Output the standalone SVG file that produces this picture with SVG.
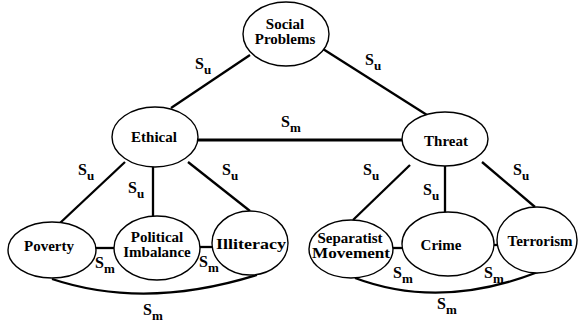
<svg xmlns="http://www.w3.org/2000/svg" width="581" height="323" viewBox="0 0 581 323">
<style>
.n ellipse{fill:#fff;stroke:#000;stroke-width:1.4}
.n text{font-family:"Liberation Serif",serif;font-weight:bold;font-size:15px;text-anchor:middle;fill:#000}
.c line,.c path{stroke:#000;stroke-width:2.3;fill:none}
.l text{font-family:"Liberation Serif",serif;font-weight:bold;fill:#000}
.s{font-size:16px}
.b{font-size:13px}
</style>
<rect width="581" height="323" fill="#fff"/>
<g class="c" id="connectors">
<line x1="250" y1="55" x2="171" y2="108"/>
<line x1="323" y1="49" x2="427" y2="115"/>
<line x1="198" y1="140" x2="402" y2="140" style="stroke-width:3"/>
<line x1="125" y1="162" x2="60" y2="223"/>
<line x1="153" y1="167" x2="153" y2="216"/>
<line x1="188" y1="162" x2="250" y2="211"/>
<line x1="95" y1="248" x2="114" y2="248"/>
<line x1="199" y1="247" x2="213" y2="247"/>
<path d="M52 279 Q145 310 257 275"/>
<line x1="410" y1="165" x2="353" y2="220"/>
<line x1="445" y1="166" x2="445" y2="212"/>
<line x1="482" y1="162" x2="535" y2="207"/>
<line x1="392" y1="248" x2="403" y2="248"/>
<line x1="494" y1="245" x2="498" y2="245"/>
<path d="M355 278 Q440 310 538 272"/>
</g>
<g class="n" id="social-problems"><ellipse cx="286" cy="34" rx="43" ry="32"/><text x="285" y="29">Social</text><text x="285" y="44">Problems</text></g>
<g class="n" id="ethical"><ellipse cx="155" cy="137" rx="43" ry="30"/><text x="154" y="142">Ethical</text></g>
<g class="n" id="threat"><ellipse cx="445" cy="139" rx="43" ry="27"/><text x="446" y="146">Threat</text></g>
<g class="n" id="poverty"><ellipse cx="52" cy="250" rx="44" ry="28"/><text x="49" y="251">Poverty</text></g>
<g class="n" id="political-imbalance"><ellipse cx="157" cy="248" rx="43" ry="32"/><text x="157" y="242">Political</text><text x="157" y="257">Imbalance</text></g>
<g class="n" id="illiteracy"><ellipse cx="250" cy="243" rx="38" ry="32"/><text x="251" y="249" textLength="70" lengthAdjust="spacingAndGlyphs">Illiteracy</text></g>
<g class="n" id="separatist-movement"><ellipse cx="351" cy="249" rx="42" ry="29"/><text x="350" y="243">Separatist</text><text x="351" y="258" textLength="78" lengthAdjust="spacingAndGlyphs">Movement</text></g>
<g class="n" id="crime"><ellipse cx="448" cy="244" rx="46" ry="32"/><text x="441" y="250">Crime</text></g>
<g class="n" id="terrorism"><ellipse cx="537" cy="240" rx="40" ry="33"/><text x="540" y="246">Terrorism</text></g>
<g class="l" id="labels">
<text x="195" y="69"><tspan class="s">S</tspan><tspan class="b" dy="5">u</tspan></text>
<text x="365" y="65"><tspan class="s">S</tspan><tspan class="b" dy="5">u</tspan></text>
<text x="281" y="127"><tspan class="s">S</tspan><tspan class="b" dy="5">m</tspan></text>
<text x="78" y="175"><tspan class="s">S</tspan><tspan class="b" dy="5">u</tspan></text>
<text x="128" y="193"><tspan class="s">S</tspan><tspan class="b" dy="5">u</tspan></text>
<text x="222" y="175"><tspan class="s">S</tspan><tspan class="b" dy="5">u</tspan></text>
<text x="95" y="268"><tspan class="s">S</tspan><tspan class="b" dy="5">m</tspan></text>
<text x="199" y="267"><tspan class="s">S</tspan><tspan class="b" dy="5">m</tspan></text>
<text x="143" y="315"><tspan class="s">S</tspan><tspan class="b" dy="5">m</tspan></text>
<text x="363" y="175"><tspan class="s">S</tspan><tspan class="b" dy="5">u</tspan></text>
<text x="423" y="195"><tspan class="s">S</tspan><tspan class="b" dy="5">u</tspan></text>
<text x="513" y="175"><tspan class="s">S</tspan><tspan class="b" dy="5">u</tspan></text>
<text x="393" y="278"><tspan class="s">S</tspan><tspan class="b" dy="5">m</tspan></text>
<text x="484" y="278"><tspan class="s">S</tspan><tspan class="b" dy="5">m</tspan></text>
<text x="437" y="309"><tspan class="s">S</tspan><tspan class="b" dy="5">m</tspan></text>
</g>
</svg>
